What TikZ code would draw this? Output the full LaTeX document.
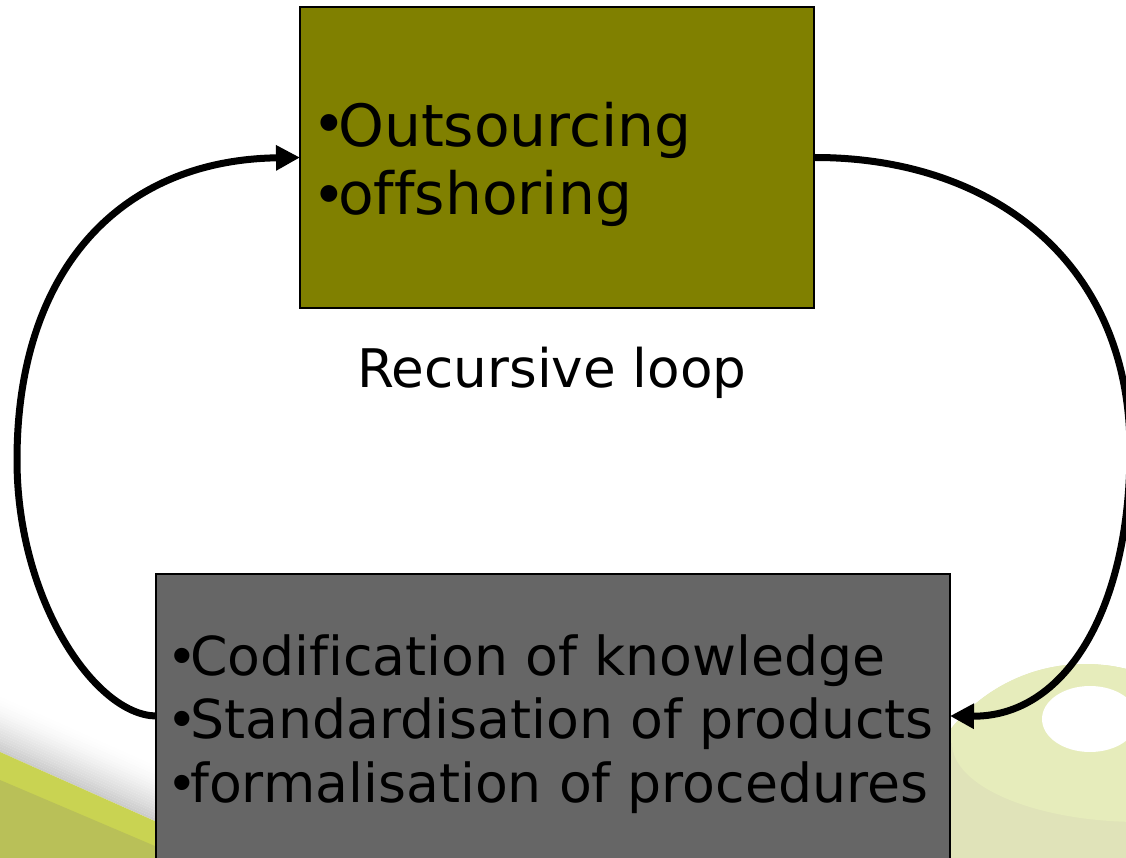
\documentclass[tikz,border=0pt]{standalone}
\usepackage{fontspec}
\usetikzlibrary{arrows.meta}
\newfontfamily\mainf[Ligatures=NoCommon]{DejaVu Sans}
\newfontfamily\bulf{Liberation Sans}
\definecolor{olivebox}{HTML}{808000}
\definecolor{graybox}{HTML}{666666}
\definecolor{bandlight}{HTML}{C9D352}
\definecolor{banddark}{HTML}{B9C058}
\definecolor{spherelight}{HTML}{E6ECBB}
\definecolor{spheredark}{HTML}{E0E3B9}
\newcommand\bigbul[3]{\makebox[#1][l]{\raisebox{#2}{\bulf\fontsize{#3}{#3}\selectfont\char"2022}}}
\tikzset{
  boxshape/.style={draw=black, line width=1.5pt, rectangle, inner sep=0pt, outer sep=0pt, anchor=north west},
  toptext/.style={inner sep=0pt, anchor=base west, font=\mainf\fontsize{58.3}{68}\selectfont},
  bottext/.style={inner sep=0pt, anchor=base west, font=\mainf\fontsize{53.7}{63}\selectfont},
  labeltext/.style={inner sep=0pt, anchor=base west, font=\mainf\fontsize{53.2}{60}\selectfont},
  conn/.style={line width=7pt, -{Triangle[length=24pt,width=24pt]}}
}
\begin{document}
\begin{tikzpicture}[x=1pt,y=-1pt]
\clip (0,0) rectangle (1126,858);
\useasboundingbox (0,0) rectangle (1126,858);
\fill[white] (0,0) rectangle (1126,858);
% bottom-left decoration: shadow and band
\begin{scope}[shift={(0,752)},rotate=-24]
  \foreach \i in {0,...,19} {
    \pgfmathsetmacro\shd{20*(1-\i/20)^1.5}
    \fill[black!\shd] (-60,-2.5*\i-2.6) rectangle (600,-2.5*\i);
  }
\end{scope}
\fill[bandlight] (0,752) -- (500,975) -- (0,975) -- cycle;
\fill[banddark] (0,780) -- (500,993) -- (0,993) -- cycle;
% bottom-right decoration: sphere
\fill[spheredark] (1085,835) circle[radius=171];
\begin{scope}
  \clip (1085,835) circle[radius=171];
  \fill[spherelight] (1140,743) ellipse[x radius=188, y radius=79];
  \fill[spherelight] (900,600) rectangle (1300,743);
\end{scope}
\fill[white] (1090,719) ellipse[x radius=48, y radius=33];
% boxes
\node[boxshape, fill=olivebox, minimum width=514pt, minimum height=301pt] (top) at (300,7) {};
\node[boxshape, fill=graybox, minimum width=794pt, minimum height=330pt] (bot) at (156,574) {};
% texts
\node[toptext] (t1) at (318,147) {\bigbul{20pt}{3pt}{62}Outsourcing};
\node[toptext] (t2) at (318,215) {\bigbul{20pt}{0pt}{62}offshoring};
\node[labeltext] (lab) at (357,387) {Recursive loop};
\node[bottext] (b1) at (172,675) {\bigbul{18pt}{1pt}{56}Codification of knowledge};
\node[bottext] (b2) at (172,738) {\bigbul{18pt}{1pt}{56}Standardisation of products};
\node[bottext] (b3) at (172,802) {\bigbul{18pt}{1pt}{56}formalisation of procedures};
% connectors
\draw[conn] ([yshift=-142pt]bot.north west) .. controls (95,715) and (17,600) .. (17,460)
  .. controls (17,270) and (120,160) .. (top.west);
\draw[conn] (top.east) .. controls (990,157) and (1130,260) .. (1130,450)
  .. controls (1130,610) and (1065,717) .. ([yshift=-142pt]bot.north east);
\end{tikzpicture}
\end{document}
